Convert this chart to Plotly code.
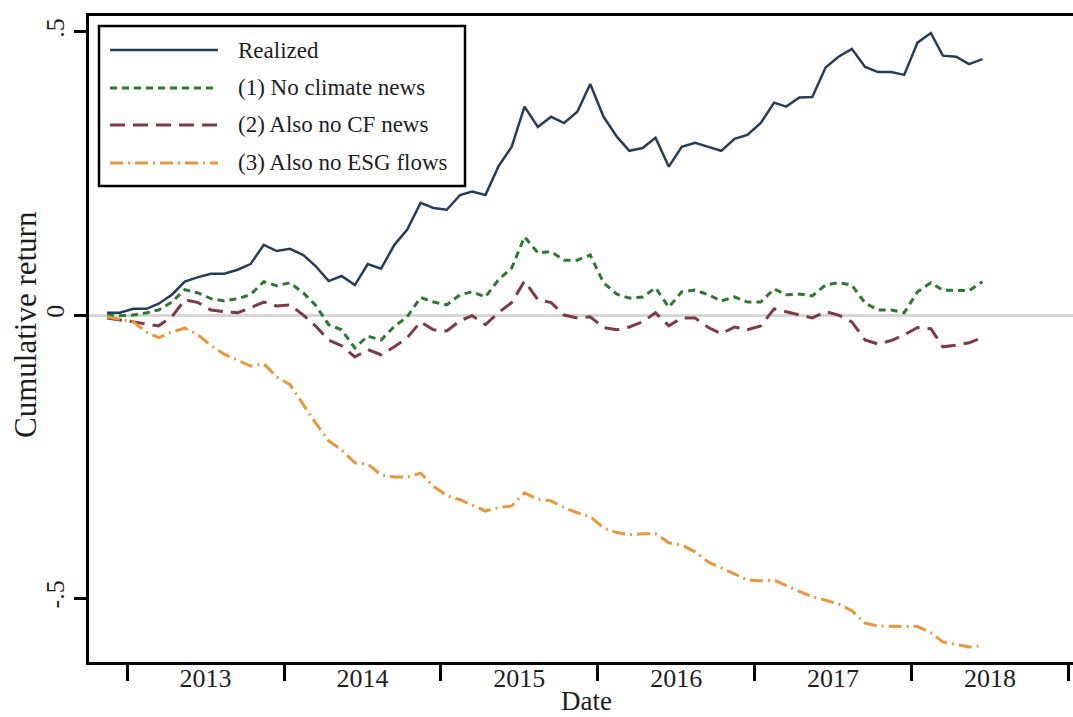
import pandas as pd
import plotly.graph_objects as go

# Monthly observations, Nov 2012 - Jun 2018 (plotted mid-month)
months = pd.date_range("2012-11-01", periods=68, freq="MS") + pd.Timedelta(days=14)

realized = [0.004, 0.004, 0.011, 0.011, 0.020, 0.036, 0.059, 0.067, 0.073, 0.073,
            0.080, 0.090, 0.124, 0.113, 0.117, 0.106, 0.087, 0.060, 0.069, 0.053,
            0.090, 0.082, 0.124, 0.151, 0.198, 0.189, 0.186, 0.212, 0.218, 0.212,
            0.262, 0.297, 0.368, 0.332, 0.350, 0.339, 0.359, 0.408, 0.350, 0.315,
            0.290, 0.295, 0.313, 0.262, 0.297, 0.304, 0.297, 0.290, 0.311, 0.318,
            0.339, 0.375, 0.368, 0.384, 0.385, 0.437, 0.456, 0.470, 0.438, 0.429,
            0.429, 0.424, 0.481, 0.498, 0.458, 0.456, 0.443, 0.452]

no_climate = [0.000, -0.001, 0.000, 0.004, 0.009, 0.023, 0.045, 0.039, 0.029, 0.025,
              0.029, 0.036, 0.059, 0.052, 0.057, 0.039, 0.018, -0.017, -0.026, -0.058,
              -0.037, -0.044, -0.020, -0.003, 0.031, 0.023, 0.018, 0.036, 0.041, 0.032,
              0.062, 0.083, 0.138, 0.110, 0.112, 0.097, 0.097, 0.106, 0.057, 0.037,
              0.030, 0.032, 0.048, 0.014, 0.041, 0.044, 0.036, 0.025, 0.032, 0.023,
              0.023, 0.046, 0.036, 0.037, 0.034, 0.053, 0.057, 0.053, 0.021, 0.009,
              0.009, 0.004, 0.041, 0.057, 0.044, 0.044, 0.043, 0.059]

no_cf = [-0.005, -0.008, -0.012, -0.016, -0.019, -0.003, 0.027, 0.022, 0.009, 0.006,
         0.004, 0.013, 0.023, 0.016, 0.018, 0.000, -0.019, -0.044, -0.054, -0.074,
         -0.061, -0.070, -0.056, -0.040, -0.012, -0.026, -0.028, -0.010, -0.001, -0.017,
         0.004, 0.022, 0.060, 0.027, 0.022, 0.000, -0.005, -0.003, -0.022, -0.026,
         -0.021, -0.012, 0.004, -0.019, -0.005, -0.005, -0.022, -0.033, -0.021, -0.026,
         -0.019, 0.011, 0.006, 0.000, -0.005, 0.006, 0.000, -0.012, -0.044, -0.051,
         -0.045, -0.035, -0.022, -0.024, -0.056, -0.053, -0.049, -0.040]

no_esg = [-0.003, -0.008, -0.012, -0.030, -0.040, -0.030, -0.023, -0.035, -0.054, -0.069,
          -0.079, -0.090, -0.086, -0.109, -0.123, -0.159, -0.190, -0.222, -0.238, -0.261,
          -0.263, -0.282, -0.286, -0.286, -0.279, -0.302, -0.319, -0.326, -0.335, -0.346,
          -0.340, -0.337, -0.314, -0.325, -0.328, -0.340, -0.349, -0.356, -0.376, -0.384,
          -0.388, -0.386, -0.386, -0.402, -0.406, -0.418, -0.436, -0.446, -0.457, -0.468,
          -0.469, -0.468, -0.478, -0.488, -0.497, -0.503, -0.510, -0.522, -0.544, -0.549,
          -0.550, -0.550, -0.550, -0.561, -0.577, -0.582, -0.586, -0.584]

series_names = ["Realized", "(1) No climate news", "(2) Also no CF news", "(3) Also no ESG flows"]
series_values = [realized, no_climate, no_cf, no_esg]
line_styles = [
    dict(color="#263d58", width=2.5, dash="solid"),
    dict(color="#2a7a30", width=3, dash="7px,5px"),
    dict(color="#7e3a47", width=3, dash="15px,8px"),
    dict(color="#e8973d", width=3, dash="13px,5px,2px,5px"),
]

FONT = "Liberation Serif"
TEXT = "#1e1e1e"
W, H = 1073, 717
ML, MR, MT, MB = 89, 0, 16, 55


def px(x):
    return (x - ML) / (W - ML - MR)


def py(y):
    return (H - MB - y) / (H - MT - MB)


fig = go.Figure()
for name, vals, style in zip(series_names, series_values, line_styles):
    fig.add_trace(go.Scatter(x=months, y=vals, mode="lines", name=name,
                             line=style, showlegend=False))

# boxed legend, upper left
shapes = [dict(type="rect", xref="paper", yref="paper",
               x0=px(99), x1=px(465), y0=py(186), y1=py(26),
               line=dict(color="black", width=2.5), fillcolor="white", layer="above")]
annotations = []
for row_y, name, style in zip([50, 88, 125, 163], series_names, line_styles):
    shapes.append(dict(type="line", xref="paper", yref="paper",
                       x0=px(110), x1=px(218), y0=py(row_y), y1=py(row_y),
                       line=style, layer="above"))
    annotations.append(dict(xref="paper", yref="paper", x=px(236), y=py(row_y),
                            text=name, showarrow=False, xanchor="left", yanchor="middle",
                            font=dict(family=FONT, size=23, color=TEXT)))

# axis titles
annotations.append(dict(xref="paper", yref="paper", x=px(25), y=py(325),
                        text="Cumulative return", textangle=-90, showarrow=False,
                        xanchor="center", yanchor="middle",
                        font=dict(family=FONT, size=31, color=TEXT)))
annotations.append(dict(xref="paper", yref="paper", x=px(586), y=py(701),
                        text="Date", showarrow=False,
                        xanchor="center", yanchor="middle",
                        font=dict(family=FONT, size=27, color=TEXT)))

fig.update_layout(
    width=W, height=H,
    margin=dict(l=ML, r=MR, t=MT, b=MB),
    paper_bgcolor="white", plot_bgcolor="white",
    font=dict(family=FONT, size=26, color=TEXT),
    shapes=shapes, annotations=annotations,
    showlegend=False,
)

fig.update_xaxes(
    type="date", range=["2012-10-04", "2019-01-12"],
    tickmode="linear", tick0="2013-01-01", dtick="M12",
    ticklabelmode="period", tickformat="%Y",
    ticks="outside", ticklen=16, tickwidth=3, tickcolor="black",
    ticklabelstandoff=-25,
    showline=True, linewidth=3, linecolor="black", mirror=True,
    showgrid=False, zeroline=False,
    tickfont=dict(family=FONT, size=26, color=TEXT),
)

fig.update_yaxes(
    range=[-0.6125, 0.528],
    tickmode="array", tickvals=[-0.5, 0, 0.5], ticktext=["-.5", "0", ".5"],
    tickangle=-90,
    ticks="outside", ticklen=12, tickwidth=3, tickcolor="black",
    showline=True, linewidth=3, linecolor="black",
    showgrid=False,
    zeroline=True, zerolinecolor="#d6d6d6", zerolinewidth=3,
    tickfont=dict(family=FONT, size=26, color=TEXT),
)

fig.write_html("out.html")
